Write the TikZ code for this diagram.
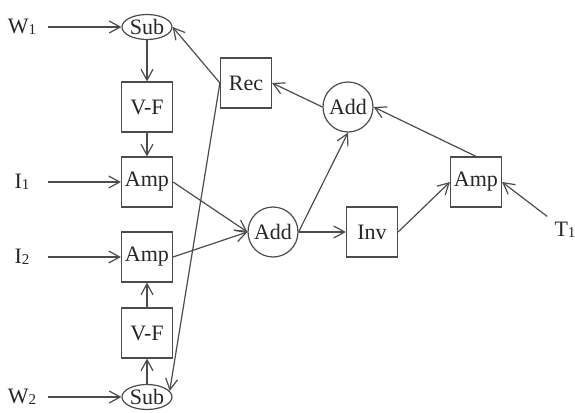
\documentclass[tikz,border=0pt]{standalone}
\usepackage{fontspec}
\setmainfont{Liberation Serif}
\usetikzlibrary{arrows.meta,shapes.geometric}
\newcommand{\lowidx}[1]{\raisebox{-0.4pt}{\fontsize{7.5}{8}\selectfont #1}}

\begin{document}
\begin{tikzpicture}[
  x=0.5pt, y=-0.5pt,
  >={Straight Barb[length=5.5pt,width=6pt]},
  line width=0.6pt,
  every node/.style={font=\fontsize{11}{13}\selectfont, text=black!85},
  block/.style={draw=black!70, minimum width=25.5pt, minimum height=25pt, inner sep=0pt},
  summ/.style={draw=black!70, circle, minimum size=25pt, inner sep=0pt},
  subt/.style={draw=black!70, ellipse, minimum width=25pt, minimum height=12.5pt, inner sep=0pt},
  inp/.style={minimum width=25pt, inner sep=0pt},
  link/.style={->, draw=black!70}
]
\useasboundingbox (0,0) rectangle (575,413);

% left column
\node[subt] (sub1) at (147,27) {Sub};
\node[block] (vf1) at (147,107) {V-F};
\node[block] (amp1) at (147,182) {Amp};
\node[block] (amp2) at (147,257) {Amp};
\node[block] (vf2) at (147,333) {V-F};
\node[subt] (sub2) at (147,397) {Sub};

% right part
\node[block] (rec) at (246,83) {Rec};
\node[summ] (add1) at (273,232) {Add};
\node[summ] (add2) at (348,107) {Add};
\node[block] (inv) at (372,232) {Inv};
\node[block] (amp3) at (476,182) {Amp};

% inputs
\node[inp] (w1) at (22,27) {W\lowidx{1}};
\node[inp] (i1) at (22,182) {I\lowidx{1}};
\node[inp] (i2) at (22,257) {I\lowidx{2}};
\node[inp] (w2) at (22,397) {W\lowidx{2}};
\node (t1) at (565,230) {T\lowidx{1}};

\draw[link] (w1) -- (sub1);
\draw[link] (sub1) -- (vf1);
\draw[link] (vf1) -- (amp1);
\draw[link] (i1) -- (amp1);
\draw[link] (i2) -- (amp2);
\draw[link] (w2) -- (sub2);
\draw[link] (sub2) -- (vf2);
\draw[link] (vf2) -- (amp2);
\draw[link] (amp1.east) -- (add1.west);
\draw[link] (amp2.east) -- (add1.west);
\draw[link] (add1.east) -- (inv.west);
\draw[link] (add1.east) -- (add2.south);
\draw[link] (inv.east) -- (amp3.west);
\draw[link] (t1) -- (amp3.east);
\draw[link] (amp3.north) -- (add2.east);
\draw[link] (add2.west) -- (rec.east);
\draw[link] (rec.west) -- (sub1.east);
\draw[link] (rec.west) -- (sub2.15);
\end{tikzpicture}
\end{document}
